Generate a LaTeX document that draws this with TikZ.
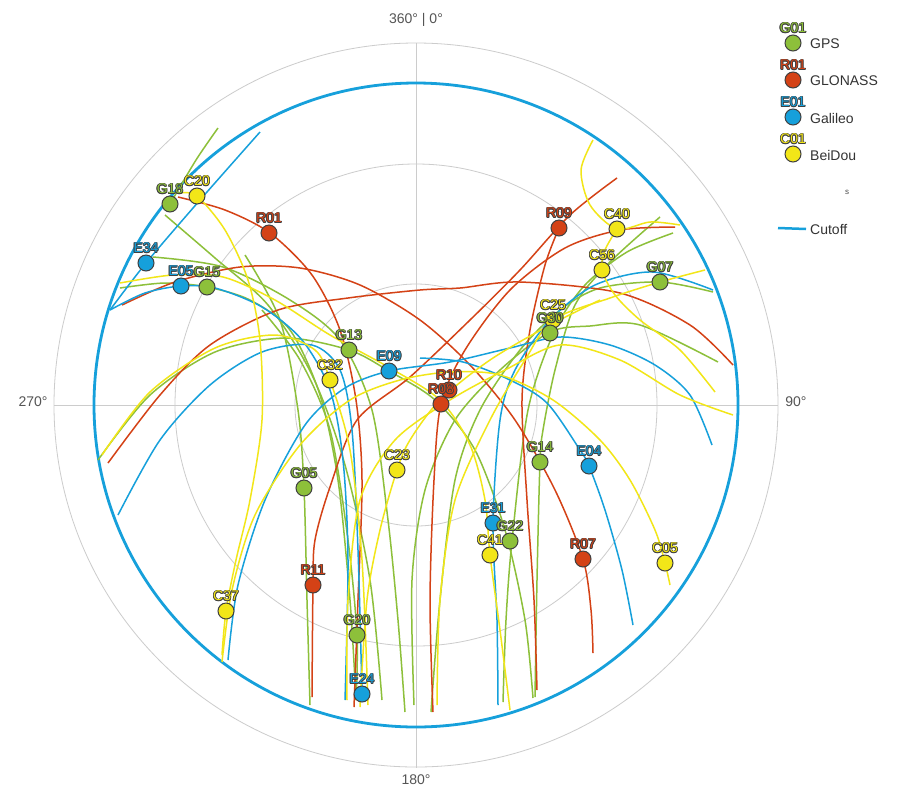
\documentclass[tikz,border=0pt]{standalone}
\usepackage{fontspec}
\setmainfont{Liberation Sans}
\usetikzlibrary{positioning}

\definecolor{gpsgreen}{RGB}{141,192,58}
\definecolor{glored}{RGB}{212,66,22}
\definecolor{galblue}{RGB}{22,160,219}
\definecolor{bdsyellow}{RGB}{242,230,24}
\definecolor{outline}{RGB}{64,64,64}
\definecolor{gridgray}{RGB}{204,204,204}
\definecolor{axisgray}{RGB}{85,85,85}

% marker with outlined label: name, text, colour, x, y
\newcommand\satmark[5]{%
  \node[satdot, fill=#3] (#1) at (#4,#5) {};
  \foreach \dx/\dy in {0.8/0,-0.8/0,0/0.8,0/-0.8,0.6/0.6,-0.6/0.6,0.6/-0.6,-0.6/-0.6}{
    \node[satlbl, text=outline, xshift=\dx pt, yshift=\dy pt] at ([yshift=15pt]#1.center) {#2};
  }
  \node[satlbl, text=#3] (#1-lbl) at ([yshift=15pt]#1.center) {#2};
}

\begin{document}
\begin{tikzpicture}[x=1pt,y=-1pt,
    gridline/.style={draw=gridgray, line width=0.8pt},
    axislbl/.style={text=axisgray, font=\fontsize{14}{14}\selectfont},
    satdot/.style={circle, draw=outline, line width=1pt, minimum size=16pt, inner sep=0pt},
    satlbl/.style={inner sep=0pt, font=\fontsize{14}{14}\selectfont},
    gpstrk/.style={draw=gpsgreen, line width=1.5pt},
    glotrk/.style={draw=glored, line width=1.5pt},
    galtrk/.style={draw=galblue, line width=1.5pt},
    bdstrk/.style={draw=bdsyellow, line width=1.5pt},
    legtxt/.style={anchor=west, inner sep=0pt, text=black!80, font=\fontsize{14}{14}\selectfont}]
\useasboundingbox (0,0) rectangle (905,807);
\fill[white] (0,0) rectangle (905,807);

% polar grid
\coordinate (O) at (416,405);
\foreach \r in {121,241,362}{
  \draw[gridline] (O) circle [radius=\r];
}
\draw[gridline] (416,43) -- (416,768);
\draw[gridline] (54,405) -- (778,405);

\node[axislbl] (north) at (416,20) {360° | 0°};
\node[axislbl] (east) at (796,402) {90°};
\node[axislbl] (south) at (416,780) {180°};
\node[axislbl] (west) at (33,402) {270°};

% cutoff
\draw[galblue, line width=2.8pt] (O) circle [radius=322];

% GPS tracks
\draw[gpstrk] plot[smooth] coordinates {(218,128) (196,160) (170,204)};
\draw[gpstrk] plot[smooth] coordinates {(165,215) (215,258) (268,305) (312,375) (345,465) (370,580) (382,700)};
\draw[gpstrk] plot[smooth] coordinates {(120,288) (165,283) (207,287) (250,300) (290,330) (320,395) (338,480) (350,600) (356,700)};
\draw[gpstrk] plot[smooth] coordinates {(98,460) (150,395) (215,352) (285,338) (349,350) (389,371) (435,400) (475,450) (505,530) (525,620) (533,698)};
\draw[gpstrk] plot[smooth] coordinates {(245,255) (280,320) (298,410) (304,488) (307,600) (310,705)};
\draw[gpstrk] plot[smooth] coordinates {(262,310) (300,360) (330,430) (348,540) (357,635) (356,700)};
\draw[gpstrk] plot[smooth] coordinates {(673,233) (627,252) (585,285) (555,330) (528,410) (512,541) (506,620) (503,702)};
\draw[gpstrk] plot[smooth] coordinates {(660,217) (610,262) (575,305) (555,370) (543,430) (540,462) (537,580) (535,697)};
\draw[gpstrk] plot[smooth] coordinates {(718,362) (640,325) (590,326) (550,332) (500,370) (455,420) (425,490) (412,580) (414,705)};
\draw[gpstrk] plot[smooth] coordinates {(713,292) (660,282) (600,288) (560,310) (520,350) (480,410) (455,480) (440,600) (431,712)};
\draw[gpstrk] plot[smooth] coordinates {(153,257) (223,267) (290,300) (340,340) (372,410) (388,520) (398,620) (405,712)};

% GLONASS tracks
\draw[glotrk] plot[smooth] coordinates {(178,197) (225,210) (270,233) (312,275) (340,330) (356,400) (362,480) (358,600) (354,707)};
\draw[glotrk] plot[smooth] coordinates {(122,305) (175,282) (240,267) (300,268) (360,285) (420,320) (470,365) (515,420) (555,490) (583,559) (591,610) (593,653)};
\draw[glotrk] plot[smooth] coordinates {(108,463) (160,395) (210,345) (278,310) (348,298) (420,290) (460,288) (520,282) (620,293) (690,325) (733,365)};
\draw[glotrk] plot[smooth] coordinates {(675,227) (620,230) (565,248) (510,290) (465,350) (441,404) (434,480) (430,600) (433,712)};
\draw[glotrk] plot[smooth] coordinates {(617,178) (570,215) (520,270) (470,320) (410,377) (357,420) (330,487) (315,540) (313,585) (312,697)};
\draw[glotrk] plot[smooth] coordinates {(559,228) (545,265) (530,330) (522,400) (527,500) (534,600) (537,690)};

% Galileo tracks
\draw[galtrk] plot[smooth] coordinates {(260,132) (200,200) (146,263) (110,310)};
\draw[galtrk] plot[smooth] coordinates {(110,310) (145,293) (181,286) (215,288) (262,307) (302,340) (330,390) (343,460) (348,560) (345,700)};
\draw[galtrk] plot[smooth] coordinates {(228,660) (238,585) (265,500) (305,425) (345,388) (389,371) (450,362) (510,348) (560,337) (610,345) (655,365) (690,395) (712,445)};
\draw[galtrk] plot[smooth] coordinates {(420,358) (463,362) (510,380) (547,403) (580,450) (589,466) (605,510) (622,570) (633,625)};
\draw[galtrk] plot[smooth] coordinates {(713,290) (653,272) (595,285) (550,320) (515,370) (500,420) (493,523) (497,620) (498,705)};
\draw[galtrk] plot[smooth] coordinates {(118,515) (160,440) (210,385) (262,352) (312,345) (340,370) (352,430) (358,550) (362,694)};

% BeiDou tracks
\draw[bdstrk] plot[smooth] coordinates {(180,193) (197,196) (225,230) (248,280) (260,340) (262,420) (250,500) (236,560) (226,611) (222,655)};
\draw[bdstrk] plot[smooth] coordinates {(222,662) (232,590) (255,515) (300,445) (350,400) (400,380) (450,372) (500,375) (553,400) (600,440) (630,480) (655,530) (665,563) (670,585)};
\draw[bdstrk] plot[smooth] coordinates {(102,455) (150,392) (215,348) (275,335) (315,350) (330,380) (350,450) (362,560) (368,705)};
\draw[bdstrk] plot[smooth] coordinates {(600,300) (550,325) (490,360) (440,400) (410,440) (397,470) (380,530) (367,600) (360,707)};
\draw[bdstrk] plot[smooth] coordinates {(120,283) (173,275) (223,277) (275,300) (330,335) (390,368) (440,400) (470,445) (485,500) (490,555) (500,630) (510,710)};
\draw[bdstrk] plot[smooth] coordinates {(593,140) (581,170) (590,205) (617,229) (650,222) (680,225)};
\draw[bdstrk] plot[smooth] coordinates {(617,229) (605,250) (602,270) (615,295) (640,320) (680,350) (715,392)};
\draw[bdstrk] plot[smooth] coordinates {(437,705) (440,600) (455,500) (490,420) (525,360) (553,320) (610,298) (660,282) (705,270)};
\draw[bdstrk] plot[smooth] coordinates {(347,700) (348,600) (360,500) (395,440) (450,400) (505,370) (560,345) (620,360) (680,395) (733,415)};

% satellites
\satmark{G18}{G18}{gpsgreen}{170}{204}
\satmark{C20}{C20}{bdsyellow}{197}{196}
\satmark{R01}{R01}{glored}{269}{233}
\satmark{E34}{E34}{galblue}{146}{263}
\satmark{E05}{E05}{galblue}{181}{286}
\satmark{G15}{G15}{gpsgreen}{207}{287}
\satmark{G13}{G13}{gpsgreen}{349}{350}
\satmark{C32}{C32}{bdsyellow}{330}{380}
\satmark{E09}{E09}{galblue}{389}{371}
\satmark{R10}{R10}{glored}{449}{390}
\satmark{R08}{R08}{glored}{441}{404}
\satmark{C23}{C23}{bdsyellow}{397}{470}
\satmark{G05}{G05}{gpsgreen}{304}{488}
\satmark{R11}{R11}{glored}{313}{585}
\satmark{C37}{C37}{bdsyellow}{226}{611}
\satmark{G20}{G20}{gpsgreen}{357}{635}
\satmark{E24}{E24}{galblue}{362}{694}
\satmark{E31}{E31}{galblue}{493}{523}
\satmark{G22}{G22}{gpsgreen}{510}{541}
\satmark{C41}{C41}{bdsyellow}{490}{555}
\satmark{G14}{G14}{gpsgreen}{540}{462}
\satmark{E04}{E04}{galblue}{589}{466}
\satmark{R07}{R07}{glored}{583}{559}
\satmark{C05}{C05}{bdsyellow}{665}{563}
\satmark{C25}{C25}{bdsyellow}{553}{320}
\satmark{G30}{G30}{gpsgreen}{550}{333}
\satmark{R09}{R09}{glored}{559}{228}
\satmark{C40}{C40}{bdsyellow}{617}{229}
\satmark{C56}{C56}{bdsyellow}{602}{270}
\satmark{G07}{G07}{gpsgreen}{660}{282}

% legend
\satmark{keyG}{G01}{gpsgreen}{793}{43}
\node[legtxt] (keyG-txt) at (810,44) {GPS};
\satmark{keyR}{R01}{glored}{793}{80}
\node[legtxt] (keyR-txt) at (810,81) {GLONASS};
\satmark{keyE}{E01}{galblue}{793}{117}
\node[legtxt] (keyE-txt) at (810,118) {Galileo};
\satmark{keyC}{C01}{bdsyellow}{793}{154}
\node[legtxt] (keyC-txt) at (810,155) {BeiDou};
\node[inner sep=0pt, text=black!70, font=\fontsize{8}{8}\selectfont] (stray) at (847,192) {s};
\coordinate (keyL) at (778,228);
\node[legtxt] (keyL-txt) at (810,229) {Cutoff};
\draw[galblue, line width=2.5pt] (keyL) -- ([xshift=-4pt]keyL-txt.west);
\end{tikzpicture}
\end{document}
